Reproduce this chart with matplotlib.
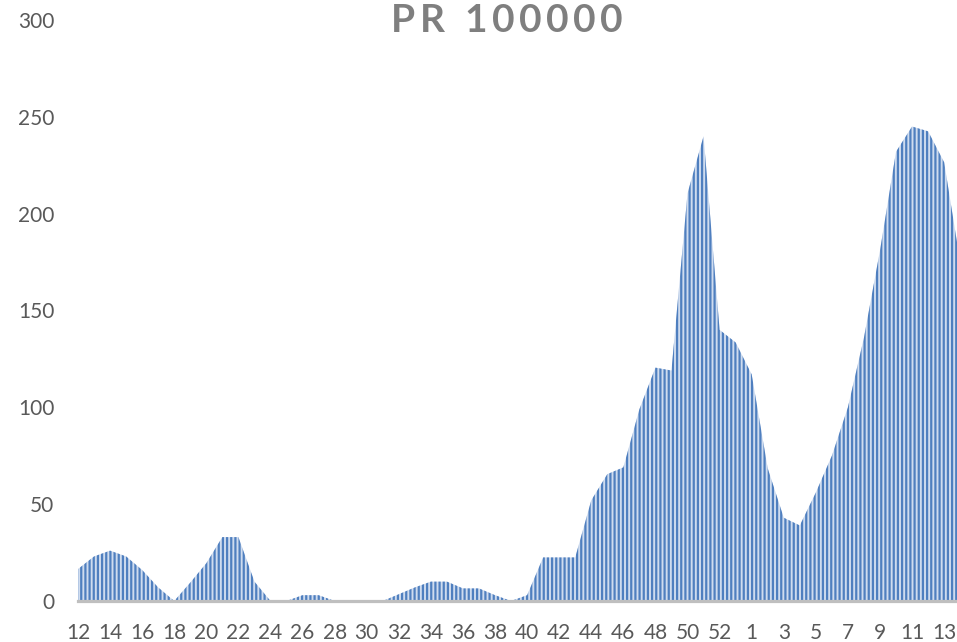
import matplotlib
matplotlib.use('Agg')
import matplotlib.pyplot as plt
import numpy as np

# weeks 12..53 of 2020, then 1..14 of 2021
weeks = list(range(12, 54)) + list(range(1, 15))
values = [16.5, 23, 26, 23, 16, 7, 0, 9.5, 19.5, 33,
          33, 10, 0, 0, 3, 3, 0, 0, 0, 0,
          3.5, 7, 10, 10, 6.5, 6.5, 3, 0, 3, 22.5,
          22.5, 22.5, 52, 65.5, 69, 99, 120.5, 119, 210.5, 240,
          140, 133.5,
          117, 68.5, 43, 39, 56, 75, 100, 136, 181, 232,
          245, 242.5, 226.5, 175]
title = 'PR 100000'

plt.rcParams['font.family'] = ['Lato', 'DejaVu Sans']
plt.rcParams['hatch.linewidth'] = 1.6

fig = plt.figure(figsize=(9.57, 6.42), dpi=100)
ax = fig.add_axes([78/957, 41/642, 879/957, 581/642])

x = np.arange(len(weeks))
ax.fill_between(x, values, 0, facecolor='#cfdcef', edgecolor='#4f7fbf',
                hatch='||||', linewidth=0)

ax.set_xlim(0, 879/16.04)
ax.set_ylim(0, 300)
ax.set_yticks(range(0, 301, 50))
ax.set_xticks(x[::2])
ax.set_xticklabels([str(w) for w in weeks[::2]])

for s in ['top', 'right', 'left']:
    ax.spines[s].set_visible(False)
ax.spines['bottom'].set_color('#bfbfbf')
ax.spines['bottom'].set_linewidth(2.3)
ax.spines['bottom'].set_zorder(3)

ax.tick_params(axis='both', length=0, labelsize=15, labelcolor='#595959')
ax.tick_params(axis='x', pad=16)
ax.tick_params(axis='y', pad=17)

# Excel title is letter-spaced, so place characters one by one
tx = 391
for ch in title:
    t = fig.text(tx/957, 1 - 21/642, ch, ha='left', va='center',
                 fontsize=28, fontweight='bold', color='#7f7f7f')
    w = t.get_window_extent(renderer=fig.canvas.get_renderer()).width
    if ch == ' ':
        w = 11
    tx += w + 4.5

fig.savefig('out.png', dpi=100)
